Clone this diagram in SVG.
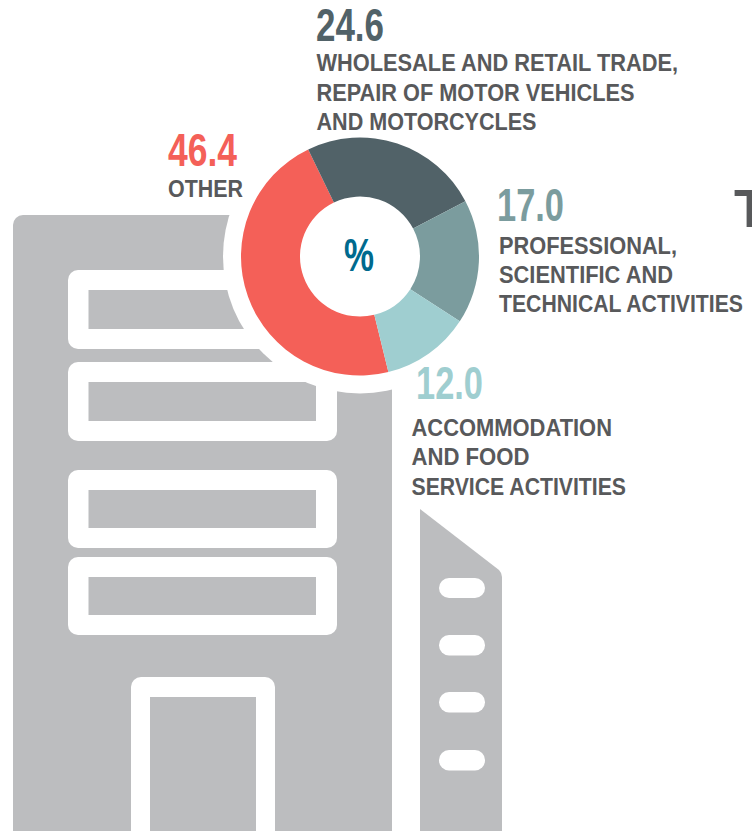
<svg xmlns="http://www.w3.org/2000/svg" width="752" height="831" viewBox="0 0 752 831">
<style>
.b{fill:#bcbdbf}
.w{fill:#fff}
.n{font-family:"Liberation Sans",sans-serif;font-weight:700;font-size:46px}
.l{font-family:"Liberation Sans",sans-serif;font-weight:700;font-size:24px;fill:#58595b}
</style>
<rect width="752" height="831" fill="#fff"/>
<g id="building">
<path class="b" d="M13 831V225a10 10 0 0 1 10-10H392V831Z"/>
<rect class="w" x="68" y="270" width="269" height="79" rx="10"/>
<rect class="b" x="88.500" y="290" width="227.500" height="39"/>
<rect class="w" x="68" y="362" width="269" height="79" rx="10"/>
<rect class="b" x="88.500" y="382" width="227.500" height="39"/>
<rect class="w" x="68" y="470" width="269" height="78" rx="10"/>
<rect class="b" x="88.500" y="490" width="227.500" height="38"/>
<rect class="w" x="68" y="557" width="269" height="78" rx="10"/>
<rect class="b" x="88.500" y="577" width="227.500" height="38"/>
<path class="w" d="M131 831V687a10 10 0 0 1 10-10H265a10 10 0 0 1 10 10V831Z"/>
<rect class="b" x="150" y="697" width="106" height="134"/>
</g>
<g id="annex">
<path class="b" d="M420 509L499 570Q502 573 502 577V831H420Z"/>
<rect class="w" x="439" y="578" width="46" height="20" rx="10"/>
<rect class="w" x="439" y="635" width="46" height="20.500" rx="10"/>
<rect class="w" x="439" y="692" width="46" height="20.500" rx="10"/>
<rect class="w" x="439" y="750" width="46" height="20.500" rx="10"/>
</g>
<g id="donut">
<circle class="w" cx="360" cy="256.500" r="137"/>
<path id="seg-other" fill="#f46058" d="M308.200 149.400A119 119 0 0 0 388.400 372.100L374.300 314.800A60 60 0 0 1 333.900 202.500Z"/>
<path id="seg-wholesale" fill="#516268" d="M308.200 149.400A119 119 0 0 1 465.400 201.200L413.100 228.600A60 60 0 0 0 333.900 202.500Z"/>
<path id="seg-professional" fill="#7b9c9e" d="M465.400 201.200A119 119 0 0 1 459.800 321.300L410.300 289.200A60 60 0 0 0 413.100 228.600Z"/>
<path id="seg-accommodation" fill="#9fced0" d="M459.800 321.300A119 119 0 0 1 388.400 372.100L374.300 314.800A60 60 0 0 0 410.300 289.200Z"/>
<text x="344" y="271" class="n" style="font-size:47px" fill="#006a8e" textLength="30" lengthAdjust="spacingAndGlyphs">%</text>
</g>
<g id="label-wholesale">
<text class="n" x="316" y="41" fill="#516268" textLength="68" lengthAdjust="spacingAndGlyphs">24.6</text>
<text class="l" x="316.500" y="71" textLength="361.500" lengthAdjust="spacingAndGlyphs">WHOLESALE AND RETAIL TRADE,</text>
<text class="l" x="316.500" y="101" textLength="318" lengthAdjust="spacingAndGlyphs">REPAIR OF MOTOR VEHICLES</text>
<text class="l" x="316.500" y="130" textLength="220" lengthAdjust="spacingAndGlyphs">AND MOTORCYCLES</text>
</g>
<g id="label-other">
<text class="n" x="168" y="166" fill="#f46058" textLength="69" lengthAdjust="spacingAndGlyphs">46.4</text>
<text class="l" x="168" y="197" textLength="75" lengthAdjust="spacingAndGlyphs">OTHER</text>
</g>
<g id="label-professional">
<text class="n" x="497" y="221" fill="#7b9c9e" textLength="67" lengthAdjust="spacingAndGlyphs">17.0</text>
<text class="l" x="499" y="253.500" textLength="178" lengthAdjust="spacingAndGlyphs">PROFESSIONAL,</text>
<text class="l" x="499" y="283" textLength="174" lengthAdjust="spacingAndGlyphs">SCIENTIFIC AND</text>
<text class="l" x="499" y="312" textLength="244" lengthAdjust="spacingAndGlyphs">TECHNICAL ACTIVITIES</text>
</g>
<g id="label-accommodation">
<text class="n" x="416" y="399" fill="#9fced0" textLength="67" lengthAdjust="spacingAndGlyphs">12.0</text>
<text class="l" x="411.500" y="436" textLength="200.500" lengthAdjust="spacingAndGlyphs">ACCOMMODATION</text>
<text class="l" x="411.500" y="465" textLength="118" lengthAdjust="spacingAndGlyphs">AND FOOD</text>
<text class="l" x="411.500" y="495" textLength="214.500" lengthAdjust="spacingAndGlyphs">SERVICE ACTIVITIES</text>
</g>
<text id="cut-title" x="734" y="227" font-family="Liberation Sans,sans-serif" font-weight="700" font-size="54" fill="#58595b">T</text>
</svg>
